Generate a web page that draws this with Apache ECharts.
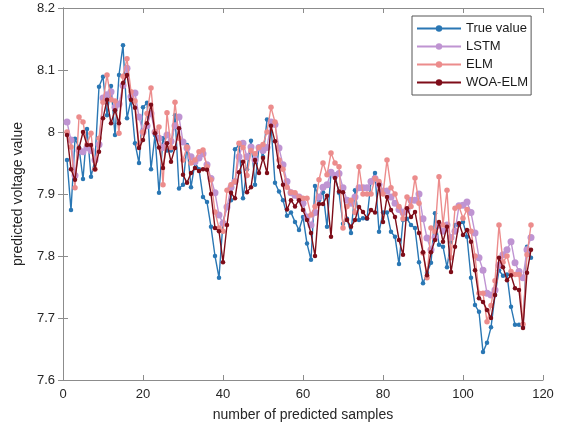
<!DOCTYPE html>
<html>
<head>
<meta charset="utf-8">
<script src="https://cdn.jsdelivr.net/npm/echarts@6/dist/echarts.min.js"></script>
<style>
  html, body { margin: 0; padding: 0; background: #fff; }
  #chart { width: 568px; height: 431px; }
</style>
</head>
<body>
<div id="chart"></div>
<script>
var seriesNames = ['True value', 'LSTM', 'ELM', 'WOA-ELM'];
var xTicks = [0, 20, 40, 60, 80, 100, 120];
var yTicks = [7.6, 7.7, 7.8, 7.9, 8.0, 8.1, 8.2];

var trueValue = [7.955,7.874,7.989,7.975,7.924,8.005,7.928,7.955,8.073,8.089,
  8.027,8.074,7.995,8.092,8.14,8.022,8.052,7.982,7.95,8.04,
  8.047,7.94,7.995,7.902,7.99,7.97,7.97,8.027,7.909,7.915,
  7.979,7.911,7.95,7.94,7.895,7.887,7.847,7.80,7.765,7.855,
  7.88,7.89,7.972,7.979,7.893,7.94,7.986,7.915,7.976,7.96,
  8.02,8.011,7.918,7.904,7.89,7.865,7.87,7.855,7.842,7.863,
  7.82,7.794,7.913,7.89,7.903,7.847,7.934,7.93,7.902,7.852,
  7.86,7.837,7.906,7.858,7.861,7.86,7.92,7.934,7.839,7.87,
  7.87,7.839,7.831,7.787,7.858,7.86,7.85,7.845,7.79,7.756,
  7.773,7.789,7.869,7.818,7.815,7.782,7.823,7.85,7.85,7.855,
  7.831,7.765,7.721,7.71,7.645,7.66,7.685,7.737,7.777,7.768,
  7.77,7.718,7.689,7.689,7.686,7.815,7.797];

var lstm = [8.016,7.987,7.93,7.97,7.968,7.975,7.97,7.955,7.98,8.055,
  8.06,8.065,8.04,8.045,8.075,8.103,8.057,8.063,8.024,8.0,
  8.01,8.03,8.0,7.99,7.975,7.995,7.985,8.01,8.024,7.984,
  7.974,7.96,7.952,7.958,7.965,7.947,7.925,7.902,7.866,7.853,
  7.879,7.911,7.92,7.96,7.982,7.96,7.976,7.955,7.975,7.97,
  7.975,8.016,8.012,7.974,7.947,7.92,7.902,7.898,7.895,7.885,
  7.863,7.85,7.87,7.895,7.911,7.915,7.935,7.93,7.933,7.91,
  7.89,7.885,7.895,7.91,7.91,7.91,7.92,7.925,7.915,7.905,
  7.905,7.895,7.885,7.875,7.87,7.875,7.89,7.89,7.9,7.86,
  7.829,7.81,7.83,7.85,7.84,7.85,7.83,7.84,7.881,7.882,
  7.887,7.87,7.837,7.797,7.777,7.74,7.737,7.745,7.785,7.802,
  7.81,7.823,7.789,7.775,7.765,7.81,7.83];

var elm = [8.0,7.976,7.91,8.024,8.016,7.98,7.998,7.94,7.99,8.048,
  8.092,8.052,8.05,7.998,8.09,8.118,8.065,8.05,7.979,8.0,
  8.03,8.071,8.0,8.008,7.915,8.031,7.975,8.048,7.99,7.955,
  7.976,7.95,7.955,7.968,7.971,7.944,7.923,7.871,7.845,7.84,
  7.906,7.915,7.92,7.982,7.975,7.93,7.97,7.965,7.975,7.98,
  8.0,8.04,8.016,7.955,7.94,7.911,7.903,7.902,7.895,7.893,
  7.893,7.866,7.88,7.923,7.95,7.931,7.966,7.95,7.944,7.845,
  7.88,7.89,7.87,7.944,7.9,7.9,7.9,7.925,7.92,7.9,
  7.955,7.91,7.9,7.88,7.86,7.895,7.88,7.926,7.885,7.805,
  7.765,7.845,7.839,7.928,7.85,7.906,7.797,7.877,7.88,7.861,
  7.875,7.84,7.8,7.74,7.74,7.694,7.72,7.76,7.85,7.79,
  7.8,7.775,7.77,7.77,7.69,7.802,7.85];

var woaElm = [7.995,7.94,7.923,7.974,8.0,7.979,7.979,7.94,7.968,8.022,
  8.052,8.014,8.035,8.014,8.079,8.092,8.052,8.039,7.974,7.987,
  8.014,8.044,7.998,7.975,7.942,7.982,7.952,7.974,8.006,7.931,
  7.918,7.934,7.942,7.937,7.94,7.939,7.90,7.845,7.84,7.79,
  7.85,7.902,7.893,7.935,7.952,7.903,7.911,7.955,7.934,7.958,
  7.934,8.01,7.985,7.944,7.915,7.875,7.89,7.88,7.89,7.874,
  7.858,7.837,7.8,7.884,7.884,7.897,7.831,7.926,7.904,7.903,
  7.858,7.847,7.858,7.879,7.871,7.861,7.874,7.87,7.915,7.855,
  7.895,7.874,7.863,7.826,7.802,7.877,7.863,7.871,7.837,7.806,
  7.769,7.806,7.826,7.855,7.823,7.847,7.774,7.815,7.853,7.834,
  7.842,7.823,7.777,7.732,7.726,7.713,7.7,7.737,7.797,7.782,
  7.761,7.769,7.748,7.745,7.684,7.773,7.81];

var colors = ['#2a77b4', '#bf94d2', '#ec8c8c', '#7e0d19'];
var symbolSizes = [4.5, 7, 5.5, 4.5];

function toPairs(arr) {
    return arr.map(function (v, i) { return [i + 1, v]; });
}

var chart = echarts.init(document.getElementById('chart'), null, { renderer: 'canvas' });

var axisLineStyle = { color: '#8c8c8c', width: 1 };
var baseFont = 'Liberation Sans, Arial, sans-serif';

var option = {
    animation: false,
    backgroundColor: '#fff',
    textStyle: { fontFamily: baseFont },
    color: colors,
    grid: { left: 63, right: 25, top: 8, bottom: 51, containLabel: false },
    legend: {
        orient: 'vertical',
        left: 412,
        top: 16,
        itemWidth: 44,
        itemHeight: 8,
        itemGap: 5,
        padding: [6, 3, 6, 4],
        borderColor: '#555',
        borderWidth: 1,
        backgroundColor: '#fff',
        textStyle: { fontSize: 13, color: '#1a1a1a', fontFamily: baseFont },
        data: seriesNames
    },
    xAxis: [{
        type: 'value',
        min: xTicks[0],
        max: xTicks[xTicks.length - 1],
        interval: 20,
        name: 'number of predicted samples',
        nameLocation: 'middle',
        nameGap: 28,
        nameTextStyle: { fontSize: 14, color: '#262626' },
        axisLine: { show: true, lineStyle: axisLineStyle },
        axisTick: { show: true, inside: true, length: 5, lineStyle: axisLineStyle },
        axisLabel: { fontSize: 13, color: '#262626', margin: 8 },
        splitLine: { show: false }
    }, {
        type: 'value',
        position: 'top',
        min: 0, max: 120, interval: 20,
        axisLine: { show: true, lineStyle: axisLineStyle },
        axisTick: { show: true, inside: true, length: 5, lineStyle: axisLineStyle },
        axisLabel: { show: false },
        splitLine: { show: false }
    }],
    yAxis: [{
        type: 'value',
        min: yTicks[0],
        max: yTicks[yTicks.length - 1],
        interval: 0.1,
        name: 'predicted voltage value',
        nameLocation: 'middle',
        nameGap: 38,
        nameTextStyle: { fontSize: 14, color: '#262626' },
        axisLine: { show: true, lineStyle: axisLineStyle },
        axisTick: { show: true, inside: true, length: 5, lineStyle: axisLineStyle },
        axisLabel: {
            fontSize: 13, color: '#262626', margin: 8,
            formatter: function (v) { return String(parseFloat(v.toFixed(1))); }
        },
        splitLine: { show: false }
    }, {
        type: 'value',
        position: 'right',
        min: 7.6, max: 8.2, interval: 0.1,
        axisLine: { show: true, lineStyle: axisLineStyle },
        axisTick: { show: true, inside: true, length: 5, lineStyle: axisLineStyle },
        axisLabel: { show: false },
        splitLine: { show: false }
    }],
    series: [trueValue, lstm, elm, woaElm].map(function (arr, k) {
        return {
            name: seriesNames[k],
            type: 'line',
            data: toPairs(arr),
            symbol: 'circle',
            symbolSize: symbolSizes[k],
            showSymbol: true,
            lineStyle: { width: 1.4, color: colors[k] },
            itemStyle: { color: colors[k] },
            z: 2 + k
        };
    })
};

chart.setOption(option);
</script>
</body>
</html>
